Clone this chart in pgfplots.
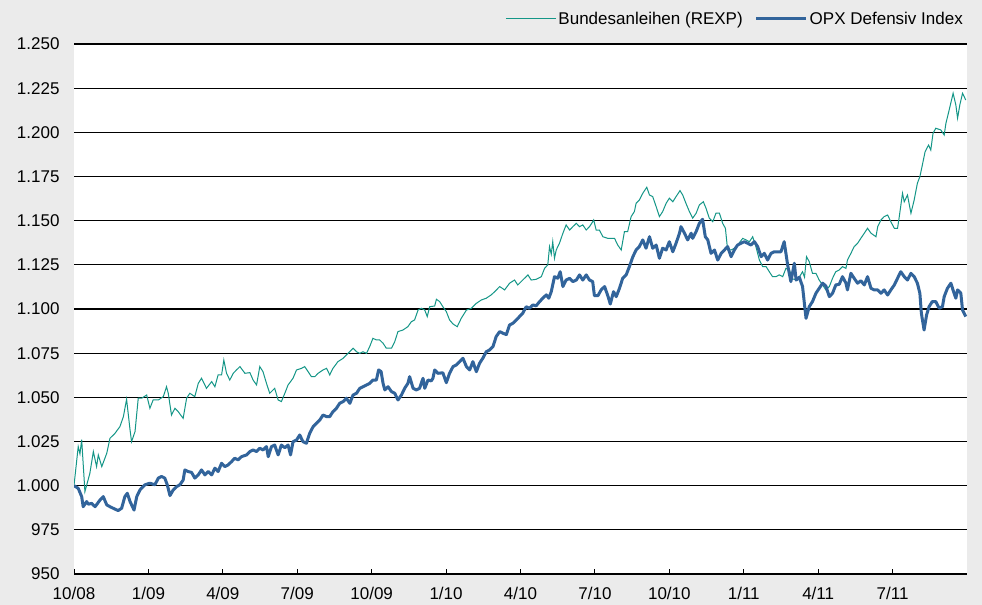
\documentclass[border=0pt]{standalone}
\usepackage{pgfplots}
\pgfplotsset{compat=1.18}
\usepackage{fontspec}
\setmainfont{Liberation Sans}
\definecolor{bg}{RGB}{235,235,235}
\definecolor{rexp}{RGB}{20,150,135}
\definecolor{opx}{RGB}{50,100,155}

\begin{document}
\begin{tikzpicture}
\fill[bg] (0bp,0bp) rectangle (982bp,605bp);
\begin{axis}[
  at={(74bp,31bp)}, anchor=south west,
  scale only axis, width=893bp, height=530bp,
  xmin=0, xmax=36, ymin=950, ymax=1250,
  axis background/.style={fill=white},
  axis line style={draw=none},
  ymajorgrids, grid style={black, line width=1.2bp},
  ytick={950,975,...,1250},
  xtick={0,3,...,33},
  xticklabels={10/08,1/09,4/09,7/09,10/09,1/10,4/10,7/10,10/10,1/11,4/11,7/11},
  tick align=inside, xtick pos=left,
  major tick length=5bp,
  x tick style={black, line width=1bp},
  ytick style={draw=none},
  yticklabel style={xshift=-11bp},
  xticklabel style={yshift=-10bp},
  every tick label/.append style={font=\fontsize{17bp}{20bp}\selectfont},
  scaled y ticks=false,
  legend columns=2,
  legend style={at={(1,1)}, anchor=south east, xshift=-2bp, yshift=16bp,
    draw=none, fill=none, inner sep=0pt,
    font=\fontsize{17bp}{20bp}\selectfont,
    /tikz/every even column/.append style={column sep=10bp}},
  legend image code/.code={\draw[#1] (0bp,0bp) -- (50bp,0bp);},
  /pgf/number format/1000 sep={.},
  /pgf/number format/assume math mode=true,
]
\addplot[rexp, line width=1bp] table {
0 1000
0.17 1022.1
0.24 1018
0.31 1026
0.44 996.6
0.64 1007
0.78 1019.3
0.91 1010.8
0.98 1017.4
1.12 1010.8
1.32 1018.3
1.45 1026.8
1.65 1029.6
1.85 1033.4
1.99 1039.0
2.12 1048.9
2.26 1031.5
2.32 1024.9
2.46 1030.6
2.59 1049.5
2.73 1049.5
2.93 1051.3
3.06 1043.8
3.19 1048.5
3.40 1048.5
3.60 1050.4
3.73 1056.0
3.80 1052.3
3.93 1040.0
4.07 1043.8
4.20 1041.9
4.40 1038.1
4.54 1049.5
4.67 1052.3
4.87 1050.4
5.01 1057.9
5.14 1060.8
5.34 1055.1
5.55 1058.9
5.68 1056.0
5.81 1062.7
5.95 1062.7
6.04 1071.1
6.15 1063.6
6.28 1059.8
6.42 1063.6
6.55 1065.5
6.69 1067.4
6.89 1063.6
7.09 1064.0
7.22 1059.8
7.36 1057.0
7.49 1067.4
7.62 1064.5
7.76 1057.9
7.89 1052.3
8.09 1055.1
8.23 1048.5
8.36 1047.6
8.50 1052.3
8.63 1057.0
8.83 1060.8
8.97 1065.5
9.17 1066.4
9.30 1067.4
9.44 1064.5
9.57 1061.7
9.71 1061.7
9.84 1063.6
10.04 1065.5
10.18 1066.4
10.31 1062.7
10.44 1066.4
10.64 1070.2
10.85 1072.1
11.05 1074.9
11.25 1077.8
11.39 1075.8
11.52 1074.9
11.65 1075.8
11.79 1074.9
11.92 1078.7
12.05 1083.4
12.19 1082.5
12.32 1082.5
12.46 1080.6
12.59 1077.8
12.80 1077.8
12.93 1081.5
13.06 1087.2
13.26 1088.1
13.46 1090.0
13.60 1092.8
13.73 1093.8
13.87 1099.4
14.00 1100.4
14.14 1099.4
14.24 1095.7
14.34 1101.3
14.54 1101.7
14.61 1105.5
14.74 1104.2
14.87 1101.3
15.01 1098.5
15.14 1093.8
15.28 1091.5
15.45 1090.0
15.61 1094.7
15.82 1099.4
16.02 1100.4
16.22 1103.2
16.42 1105.1
16.62 1106.1
16.82 1108.0
16.96 1109.8
17.16 1112.7
17.36 1110.8
17.56 1114.6
17.76 1116.4
17.89 1113.6
18.09 1116.4
18.30 1119.3
18.43 1116.4
18.63 1116.8
18.84 1118.3
18.97 1123.0
19.10 1125.0
19.17 1135.3
19.24 1131.0
19.30 1138.1
19.37 1128.7
19.44 1133.4
19.57 1137.2
19.71 1142.9
19.84 1147.6
19.98 1144.7
20.11 1146.6
20.25 1148.5
20.38 1146.6
20.51 1147.6
20.65 1144.7
20.78 1146.6
20.87 1148.5
20.95 1150.4
21.05 1144.7
21.18 1144.7
21.32 1140.9
21.52 1140.0
21.72 1140.0
21.79 1140.0
21.92 1136.2
22.06 1133.4
22.19 1143.8
22.32 1143.8
22.46 1152.3
22.59 1155.1
22.66 1159.8
22.79 1161.7
22.93 1165.5
23.09 1168.9
23.20 1164.5
23.33 1163.6
23.47 1157.9
23.60 1152.3
23.73 1155.1
23.87 1159.8
24.00 1162.7
24.14 1160.7
24.27 1163.6
24.43 1167.0
24.54 1164.5
24.67 1159.8
24.81 1155.1
24.94 1151.4
25.08 1154.2
25.21 1158.9
25.37 1160.7
25.48 1157.0
25.61 1151.4
25.75 1149.4
25.88 1154.2
26.02 1154.2
26.15 1148.5
26.26 1145.7
26.35 1133.4
26.49 1133.4
26.62 1134.4
26.75 1136.2
26.96 1140.0
27.09 1139.1
27.23 1138.1
27.36 1140.9
27.49 1135.3
27.63 1127.7
27.76 1124.0
27.90 1124.0
28.03 1121.1
28.16 1118.3
28.30 1118.3
28.43 1119.3
28.57 1118.3
28.70 1123.0
28.84 1122.1
28.97 1117.0
29.17 1116.4
29.37 1121.1
29.45 1118.0
29.53 1129.6
29.64 1126.8
29.77 1120.2
29.91 1120.2
30.04 1116.4
30.18 1113.6
30.31 1110.8
30.45 1112.7
30.58 1117.4
30.71 1121.1
30.85 1122.1
30.98 1124.0
31.12 1123.0
31.18 1127.7
31.32 1131.5
31.45 1135.3
31.59 1137.2
31.72 1140.0
31.86 1142.9
31.99 1145.7
32.13 1142.9
32.33 1140.9
32.40 1146.6
32.53 1150.4
32.66 1152.3
32.80 1153.2
32.93 1149.4
33.07 1145.7
33.20 1145.7
33.27 1152.3
33.40 1165.5
33.47 1160.7
33.60 1164.5
33.74 1154.2
33.87 1161.7
34.00 1171.2
34.10 1174.9
34.20 1181.5
34.31 1189.0
34.45 1192.8
34.54 1190.0
34.63 1199.4
34.74 1202.3
34.94 1201.4
35.08 1198.5
35.15 1205.1
35.28 1212.6
35.44 1222.1
35.55 1215.5
35.62 1208.0
35.71 1215.5
35.82 1222.1
35.95 1218.3
};
\addlegendentry{Bundesanleihen (REXP)}
\addplot[opx, line width=3bp, line join=round] table {
0 1000
0.17 998.5
0.31 993.8
0.37 988.1
0.51 991.0
0.58 989.5
0.71 990.0
0.85 988.1
1.05 991.9
1.18 993.8
1.32 989.1
1.45 988.1
1.58 987.2
1.78 985.9
1.92 987.2
2.05 993.8
2.15 995.7
2.26 991.0
2.42 986.2
2.53 993.8
2.66 997.6
2.86 1000.5
3.06 1001.4
3.26 1000.5
3.40 1004.3
3.53 1005.2
3.66 1004.3
3.76 1000.5
3.87 994.4
4.00 997.6
4.14 999.5
4.27 1000.5
4.40 1003.2
4.47 1008.9
4.60 1008.0
4.74 1007.5
4.87 1004.3
5.01 1006.1
5.14 1008.9
5.28 1006.1
5.41 1008.0
5.55 1006.1
5.68 1009.9
5.81 1008.0
5.95 1012.7
6.08 1010.8
6.21 1011.7
6.35 1013.6
6.48 1015.5
6.62 1014.6
6.75 1016.4
6.96 1017.4
7.09 1019.3
7.22 1020.2
7.36 1019.3
7.49 1021.2
7.62 1020.2
7.76 1022.1
7.83 1016.4
7.96 1022.1
8.09 1023.0
8.23 1017.4
8.36 1023.0
8.50 1021.5
8.63 1023.0
8.73 1017.4
8.83 1024.9
8.97 1025.8
9.10 1028.7
9.23 1024.9
9.37 1024.0
9.50 1029.6
9.64 1033.4
9.77 1035.3
9.91 1037.2
10.04 1040.0
10.18 1039.1
10.31 1039.1
10.44 1041.9
10.58 1043.8
10.71 1046.6
10.85 1047.6
10.98 1049.5
11.12 1046.6
11.25 1051.3
11.39 1052.3
11.52 1055.1
11.65 1056.0
11.79 1057.0
11.92 1057.9
12.05 1059.8
12.19 1059.8
12.28 1065.5
12.38 1064.6
12.46 1057.9
12.53 1054.2
12.66 1056.0
12.80 1053.2
12.93 1052.3
13.06 1048.5
13.20 1051.3
13.33 1055.1
13.46 1057.9
13.53 1061.7
13.67 1055.1
13.80 1054.2
13.93 1055.1
14.07 1060.8
14.14 1055.1
14.27 1059.8
14.40 1059.3
14.47 1060.8
14.54 1065.5
14.67 1063.6
14.87 1063.9
15.01 1058.3
15.14 1063.6
15.28 1067.4
15.41 1068.3
15.55 1070.2
15.68 1072.1
15.82 1067.4
15.95 1065.5
16.08 1070.2
16.22 1064.5
16.35 1069.3
16.48 1072.1
16.62 1075.8
16.75 1076.8
16.89 1078.7
17.02 1084.4
17.16 1087.2
17.29 1086.3
17.43 1085.5
17.56 1091.0
17.69 1091.9
17.83 1093.8
17.96 1095.7
18.09 1097.6
18.23 1101.3
18.36 1100.4
18.50 1102.3
18.63 1101.8
18.77 1104.2
18.90 1106.1
19.04 1108.0
19.14 1106.1
19.24 1109.8
19.37 1118.3
19.50 1117.4
19.60 1121.1
19.71 1112.7
19.84 1116.4
19.98 1117.4
20.11 1115.5
20.25 1116.4
20.38 1119.3
20.51 1116.4
20.65 1119.3
20.78 1116.4
20.91 1115.5
20.98 1107.5
21.12 1107.5
21.25 1110.8
21.39 1112.7
21.52 1107.5
21.62 1102.8
21.75 1109.8
21.86 1107.0
21.99 1111.7
22.12 1117.4
22.26 1119.3
22.39 1124.0
22.53 1129.6
22.66 1133.4
22.79 1135.3
22.93 1139.1
23.06 1134.4
23.20 1140.9
23.33 1134.4
23.47 1136.2
23.60 1128.7
23.73 1134.4
23.87 1133.4
24.00 1138.1
24.14 1132.4
24.27 1137.2
24.41 1142.9
24.47 1146.6
24.61 1142.9
24.74 1139.1
24.88 1142.9
24.94 1140.0
25.08 1143.8
25.21 1148.5
25.34 1150.8
25.45 1140.9
25.55 1139.1
25.68 1131.5
25.82 1133.4
25.95 1127.7
26.09 1131.5
26.22 1133.4
26.35 1135.3
26.49 1129.6
26.62 1133.4
26.75 1136.2
26.89 1137.2
27.02 1138.1
27.16 1137.2
27.29 1136.2
27.43 1138.1
27.56 1135.3
27.70 1129.6
27.83 1131.5
27.96 1127.7
28.10 1131.5
28.23 1132.4
28.36 1132.4
28.50 1132.4
28.63 1138.1
28.77 1124.9
28.90 1115.5
29.04 1125.9
29.11 1116.4
29.24 1118.0
29.37 1112.7
29.51 1094.7
29.64 1101.3
29.77 1104.2
29.91 1108.9
30.04 1111.7
30.18 1114.6
30.31 1113.0
30.45 1107.0
30.58 1108.9
30.71 1113.6
30.85 1114.0
30.98 1118.3
31.12 1114.6
31.18 1110.8
31.32 1120.2
31.45 1117.4
31.59 1114.6
31.72 1116.0
31.86 1113.6
31.99 1118.3
32.13 1111.7
32.26 1110.8
32.40 1110.8
32.53 1108.9
32.66 1110.8
32.80 1107.9
32.93 1110.8
33.07 1113.6
33.20 1117.4
33.33 1121.1
33.47 1118.3
33.60 1116.4
33.74 1120.2
33.87 1118.3
34.00 1114.6
34.10 1108.9
34.16 1097.6
34.27 1088.1
34.37 1096.6
34.47 1101.3
34.60 1104.2
34.74 1104.2
34.88 1100.4
35.01 1101.3
35.08 1107.0
35.21 1111.7
35.35 1114.6
35.48 1108.9
35.55 1106.1
35.62 1110.8
35.75 1109.0
35.82 1099.4
35.95 1095.7
};
\addlegendentry{OPX Defensiv Index}
\end{axis}
\pgfresetboundingbox
\useasboundingbox (0bp,0bp) rectangle (982bp,605bp);
\end{tikzpicture}
\end{document}
